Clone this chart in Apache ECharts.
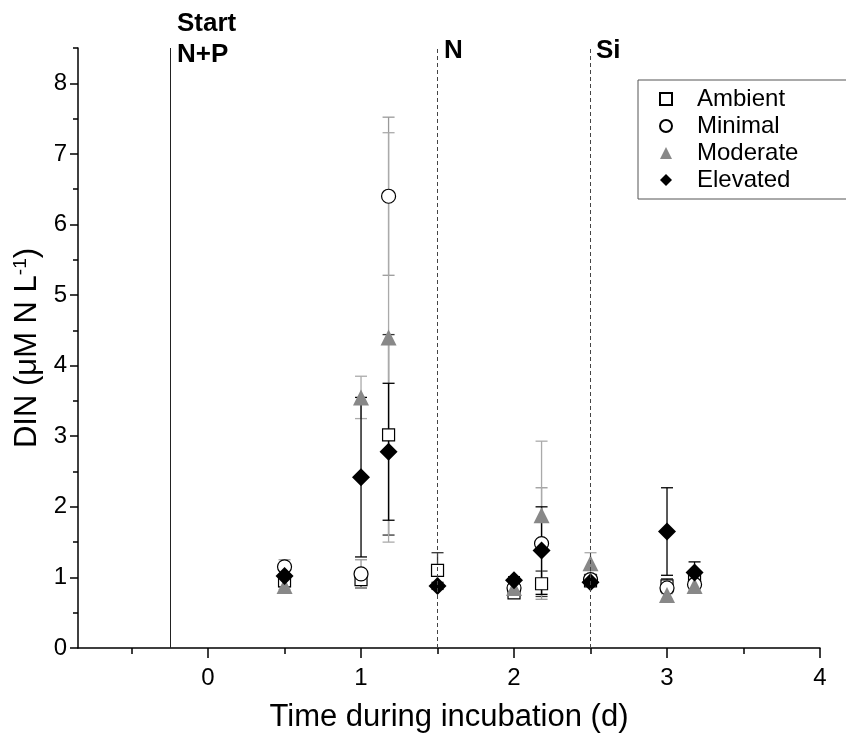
<!DOCTYPE html>
<html>
<head>
<meta charset="utf-8">
<script src="https://cdn.jsdelivr.net/npm/echarts@6/dist/echarts.min.js"></script>
<style>
  html, body { margin: 0; padding: 0; background: #fff; }
  #chart { width: 846px; height: 747px; }
</style>
</head>
<body>
<div id="chart"></div>
<script>
// sampling times (d), slight offsets for the 2nd sample of a day
const times = [0.5, 1.0, 1.18, 1.5, 2.0, 2.18, 2.5, 3.0, 3.18]

const ambientMean = [0.95, 0.97, 3.02, 1.10, 0.78, 0.91, 0.95, 0.88, 0.95]
const ambientErr = [0.08, 0.12, 1.42, 0.25, 0.05, 0.18, 0.05, 0.10, 0.08]
const minimalMean = [1.15, 1.05, 6.40, null, 0.85, 1.48, 0.97, 0.85, 0.90]
const minimalErr = [0.10, 0.20, 1.12, null, 0.05, 0.79, 0.05, 0.08, 0.06]
const moderateMean = [0.88, 3.55, 4.40, null, 0.85, 1.88, 1.20, 0.75, 0.88]
const moderateErr = [0.05, 0.30, 2.90, null, 0.05, 1.05, 0.15, 0.06, 0.05]
const elevatedMean = [1.02, 2.42, 2.78, 0.88, 0.96, 1.38, 0.93, 1.65, 1.07]
const elevatedErr = [0.08, 1.13, 0.97, 0.05, 0.05, 0.62, 0.05, 0.62, 0.15]

const xLabels = [0, 1, 2, 3, 4]
const xMinorTicks = [-0.5, 0.5, 1.5, 2.5, 3.5]
const yLabels = [0, 1, 2, 3, 4, 5, 6, 7, 8]
const yMinorTicks = [0.5, 1.5, 2.5, 3.5, 4.5, 5.5, 6.5, 7.5, 8.5]

// treatment additions
const additions = [
  { x: -0.25, dashed: false },
  { x: 1.5, dashed: true },
  { x: 2.5, dashed: true },
]

const font = 'Liberation Sans, Arial, sans-serif'

function points(means) {
  const out = []
  for (let i = 0; i < times.length; i++) {
    if (means[i] != null) out.push([times[i], means[i]])
  }
  return out
}

function errorSeries(name, means, errs, color) {
  const data = []
  for (let i = 0; i < times.length; i++) {
    if (means[i] == null) continue
    data.push([times[i], means[i] - errs[i], means[i] + errs[i]])
  }
  return {
    name: name + ' err',
    type: 'custom',
    z: 1,
    silent: true,
    data: data,
    encode: { x: 0, y: [1, 2] },
    renderItem: function (params, api) {
      const x = api.value(0)
      const lo = api.coord([x, api.value(1)])
      const hi = api.coord([x, api.value(2)])
      const w = 6
      const style = { stroke: color, lineWidth: 1.3 }
      return {
        type: 'group',
        children: [
          { type: 'line', shape: { x1: lo[0], y1: lo[1], x2: hi[0], y2: hi[1] }, style: style },
          { type: 'line', shape: { x1: lo[0] - w, y1: lo[1], x2: lo[0] + w, y2: lo[1] }, style: style },
          { type: 'line', shape: { x1: hi[0] - w, y1: hi[1], x2: hi[0] + w, y2: hi[1] }, style: style },
        ],
      }
    },
  }
}

const chart = echarts.init(document.getElementById('chart'))

const option = {
  animation: false,
  textStyle: { fontFamily: font },
  grid: { left: 78, right: 26, top: 48, bottom: 99 },
  legend: {
    orient: 'vertical',
    left: 638,
    top: 80,
    data: ['Ambient', 'Minimal', 'Moderate', 'Elevated'],
    itemWidth: 12,
    itemHeight: 12,
    itemGap: 3,
    padding: [7, 60, 7, 21],
    borderColor: '#555',
    borderWidth: 1,
    textStyle: { fontSize: 24, color: '#000', fontFamily: font, padding: [0, 0, 0, 20] },
  },
  xAxis: [
    {
      type: 'value',
      min: -0.85,
      max: 4,
      name: 'Time during incubation (d)',
      nameLocation: 'middle',
      nameGap: 54,
      nameTextStyle: { fontSize: 31, color: '#000' },
      axisLine: { onZero: false, lineStyle: { color: '#000', width: 1.5 } },
      axisTick: { customValues: xLabels, length: 10, lineStyle: { color: '#000', width: 1.5 } },
      axisLabel: { customValues: xLabels, fontSize: 24, color: '#000', margin: 18 },
      splitLine: { show: false },
    },
    {
      type: 'value',
      min: -0.85,
      max: 4,
      position: 'bottom',
      axisLine: { show: false, onZero: false },
      axisTick: { customValues: xMinorTicks, length: 6, lineStyle: { color: '#000', width: 1.5 } },
      axisLabel: { show: false },
      splitLine: { show: false },
    },
  ],
  yAxis: [
    {
      type: 'value',
      min: 0,
      max: 8.5,
      name: 'DIN (μM N L{sup|-1})',
      nameLocation: 'middle',
      nameGap: 35,
      nameTextStyle: {
        fontSize: 31,
        color: '#000',
        rich: { sup: { fontSize: 19, color: '#000', verticalAlign: 'top', lineHeight: 31, padding: [0, 0, 11, 0] } },
      },
      axisLine: { show: true, onZero: false, lineStyle: { color: '#000', width: 1.5 } },
      axisTick: { customValues: yLabels, length: 8, lineStyle: { color: '#000', width: 1.5 } },
      axisLabel: { customValues: yLabels, fontSize: 24, color: '#000', margin: 11 },
      splitLine: { show: false },
    },
    {
      type: 'value',
      min: 0,
      max: 8.5,
      position: 'left',
      axisLine: { show: false, onZero: false },
      axisTick: { show: true, customValues: yMinorTicks, length: 5, lineStyle: { color: '#000', width: 1.5 } },
      axisLabel: { show: false },
      splitLine: { show: false },
    },
  ],
  series: [
    {
      name: 'additions',
      type: 'line',
      data: [],
      markLine: {
        silent: true,
        symbol: 'none',
        label: { show: false },
        data: additions.map((a) => ({
          xAxis: a.x,
          lineStyle: { color: a.dashed ? '#444' : '#222', width: 1, type: a.dashed ? [4, 3] : 'solid' },
        })),
      },
    },
    errorSeries('Ambient', ambientMean, ambientErr, '#333'),
    errorSeries('Minimal', minimalMean, minimalErr, '#999'),
    errorSeries('Moderate', moderateMean, moderateErr, '#aaa'),
    errorSeries('Elevated', elevatedMean, elevatedErr, '#000'),
    {
      name: 'Ambient',
      type: 'scatter',
      z: 3,
      symbol: 'rect',
      symbolSize: 12,
      itemStyle: { color: '#fff', borderColor: '#000', borderWidth: 1.2, opacity: 1 },
      data: points(ambientMean),
    },
    {
      name: 'Minimal',
      type: 'scatter',
      z: 3,
      symbol: 'circle',
      symbolSize: 14,
      itemStyle: { color: '#fff', borderColor: '#000', borderWidth: 1.2, opacity: 1 },
      data: points(minimalMean),
    },
    {
      name: 'Moderate',
      type: 'scatter',
      z: 3,
      symbol: 'triangle',
      symbolSize: 16,
      itemStyle: { color: '#888', opacity: 1 },
      data: points(moderateMean),
    },
    {
      name: 'Elevated',
      type: 'scatter',
      z: 3,
      symbol: 'diamond',
      symbolSize: 18,
      itemStyle: { color: '#000', opacity: 1 },
      data: points(elevatedMean),
    },
  ],
  graphic: [
    { type: 'text', left: 177, top: 8, style: { text: 'Start\nN+P', font: 'bold 26px ' + font, fill: '#000', lineHeight: 31 } },
    { type: 'text', left: 444, top: 38, style: { text: 'N', font: 'bold 26px ' + font, fill: '#000' } },
    { type: 'text', left: 596, top: 38, style: { text: 'Si', font: 'bold 26px ' + font, fill: '#000' } },
  ],
}

chart.setOption(option)
</script>
</body>
</html>
